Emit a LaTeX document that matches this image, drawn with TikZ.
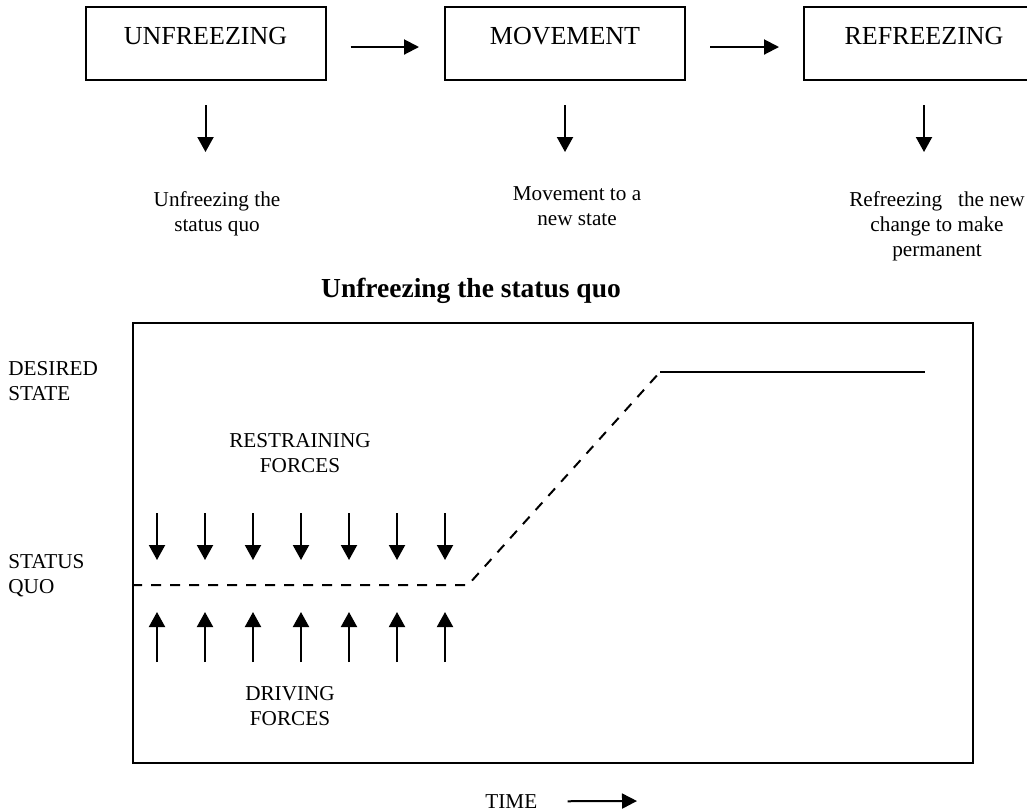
\documentclass[tikz,border=0pt]{standalone}
\usepackage{fontspec}
\setmainfont{Liberation Serif}
\usetikzlibrary{arrows.meta}

\begin{document}
\begin{tikzpicture}[x=0.5pt,y=-0.5pt,
  stage/.style={draw,line width=1pt,inner sep=0pt,minimum width=120pt,
    text height=18.5pt,text depth=18pt,font=\fontsize{13}{15}\selectfont},
  note/.style={align=center,inner sep=0pt,font=\fontsize{10.6}{12.5}\selectfont},
  axislabel/.style={align=left,inner sep=0pt,font=\fontsize{10.6}{12.5}\selectfont},
  flow/.style={line width=1pt,-{Triangle[length=7.5pt,width=7.5pt]}},
  force/.style={line width=1pt,-{Triangle[length=7.5pt,width=8pt]}},
  level/.style={line width=1pt,dash pattern=on 5pt off 4.5pt},
]
\useasboundingbox (0,0) rectangle (1027,811);
\clip (0,0) rectangle (1027,811);

% --- the three stages of change ---
\node[stage] (unf) at (205.5,43.5) {UNFREEZING};
\node[stage] (mov) at (565,43.5) {MOVEMENT};
\node[stage] (ref) at (924,43.5) {REFREEZING};

\draw[flow,shorten <=12pt,shorten >=12.5pt]
  ([yshift=-1.75pt]unf.east) -- ([yshift=-1.75pt]mov.west);
\draw[flow,shorten <=12pt,shorten >=12pt]
  ([yshift=-1.75pt]mov.east) -- ([yshift=-1.75pt]ref.west);

\coordinate (d1) at (205.5,152);
\coordinate (d2) at (565,152);
\coordinate (d3) at (924,152);
\draw[force,shorten <=12pt] (unf.south) -- (d1);
\draw[force,shorten <=12pt] (mov.south) -- (d2);
\draw[force,shorten <=12pt] (ref.south) -- (d3);

\node[note] (n1) at (217,213.5) {Unfreezing the\\status quo};
\node[note] (n2) at (577,206.5) {Movement to a\\new state};
\node[note] (n3) at (937,226) {Refreezing\ \ \ the new\\change to make\\permanent};

% --- force field diagram ---
\node[inner sep=0pt,font=\fontsize{13.75}{16}\selectfont\bfseries] (title) at (471,291)
  {Unfreezing the status quo};

\node[draw,line width=1pt,inner sep=0pt,minimum width=420pt,minimum height=220pt]
  (chart) at (553,543) {};

\node[axislabel,anchor=north west] (desired) at (8,361) {DESIRED\\STATE};
\node[axislabel,anchor=north west] (status) at (8,554) {STATUS\\QUO};

\node[note,anchor=north] (restr) at (300,433) {RESTRAINING\\FORCES};
\node[note,anchor=north] (driv) at (290,686) {DRIVING\\FORCES};

\foreach \i in {0,...,6}{
  \coordinate (rt\i) at (157+48*\i,513);
  \coordinate (rb\i) at (157+48*\i,560);
  \coordinate (dt\i) at (157+48*\i,612);
  \coordinate (db\i) at (157+48*\i,662);
  \draw[force] (rt\i) -- (rb\i);
  \draw[force] (db\i) -- (dt\i);
}

\coordinate (sqend) at (468,585);
\coordinate (dsstart) at (660,372);
\coordinate (dsend) at (925,372);
\draw[level] (chart.west |- sqend) -- (sqend) -- (dsstart);
\draw[line width=0.9pt] (dsstart) -- (dsend);

\node[inner sep=0pt,font=\fontsize{10.6}{12.5}\selectfont,anchor=north west] (time) at (485,794) {TIME};
\coordinate (tend) at (637,801);
\draw[flow,shorten <=15pt] (time.east) -- (tend);
\end{tikzpicture}
\end{document}
